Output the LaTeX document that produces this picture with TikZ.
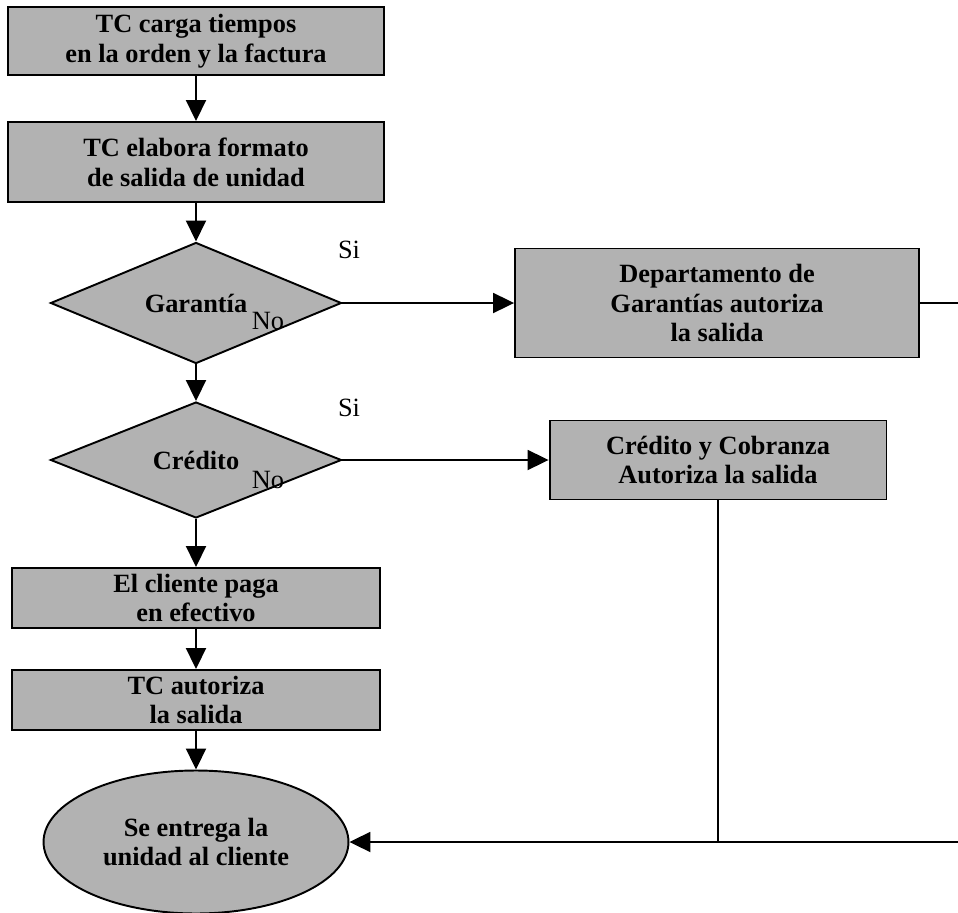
\documentclass[tikz,border=0pt]{standalone}
\usepackage{fontspec}
\setmainfont{Liberation Serif}
\usetikzlibrary{arrows.meta, shapes.geometric}
\tikzset{every picture/.style={x=0.02cm,y=-0.02cm,line width=1.1pt,>={Triangle[length=0.42cm,width=0.4cm]}},
  paso/.style={rectangle, draw=black, fill=black!30, inner sep=0pt, align=center, font=\bfseries\fontsize{15}{17}\selectfont},
  decision/.style={diamond, draw=black, fill=black!30, inner sep=0pt, font=\bfseries\fontsize{15}{17}\selectfont},
  final/.style={ellipse, draw=black, fill=black!30, inner sep=0pt, align=center, font=\bfseries\fontsize{15}{17}\selectfont},
  etiqueta/.style={inner sep=0pt, font=\fontsize{15}{17}\selectfont}}

\begin{document}
\begin{tikzpicture}
        \useasboundingbox (0,0) rectangle (958,913);
        \node[paso, minimum width=7.52cm, minimum height=1.36cm] (carga) at (196, 41) {TC carga tiempos\\en la orden y la factura};
        \node[paso, minimum width=7.52cm, minimum height=1.6cm] (formato) at (196, 162) {TC elabora formato\\de salida de unidad};
        \node[decision, minimum width=5.82cm, minimum height=2.36cm] (garantia) at (196, 303) {Garantía};
        \node[paso, minimum width=8.08cm, minimum height=2.18cm] (depto) at (717, 303) {Departamento de\\Garantías autoriza\\la salida};
        \node[decision, minimum width=5.82cm, minimum height=2.32cm] (credito) at (196, 460) {Crédito};
        \node[paso, minimum width=6.74cm, minimum height=1.58cm] (cobranza) at (718, 460) {Crédito y Cobranza\\Autoriza la salida};
        \node[paso, minimum width=7.38cm, minimum height=1.2cm] (paga) at (196, 598) {El cliente paga\\en efectivo};
        \node[paso, minimum width=7.38cm, minimum height=1.2cm] (autoriza) at (196, 700) {TC autoriza\\la salida};
        \node[final, minimum width=6.1cm, minimum height=2.86cm] (entrega) at (196, 842) {Se entrega la\\unidad al cliente};

        \node[etiqueta] (si1) at (349, 250) {Si};
        \node[etiqueta] (no1) at (268, 321) {No};
        \node[etiqueta] (si2) at (349, 408) {Si};
        \node[etiqueta] (no2) at (268, 480) {No};

        \coordinate (c1) at (958, 303);
        \coordinate (c2) at (958, 842);
        \coordinate (c3) at (718, 842);

        \foreach \from/\to in {
          carga/formato, formato/garantia, garantia/credito,
          credito/paga, paga/autoriza, autoriza/entrega,
          garantia/depto, credito/cobranza}
        \draw[->] (\from) -- (\to);

        \draw (depto) -- (c1);
        \draw (cobranza) -- (c3);
        \draw[->] (c2) -- (entrega);
    \end{tikzpicture}
\end{document}
